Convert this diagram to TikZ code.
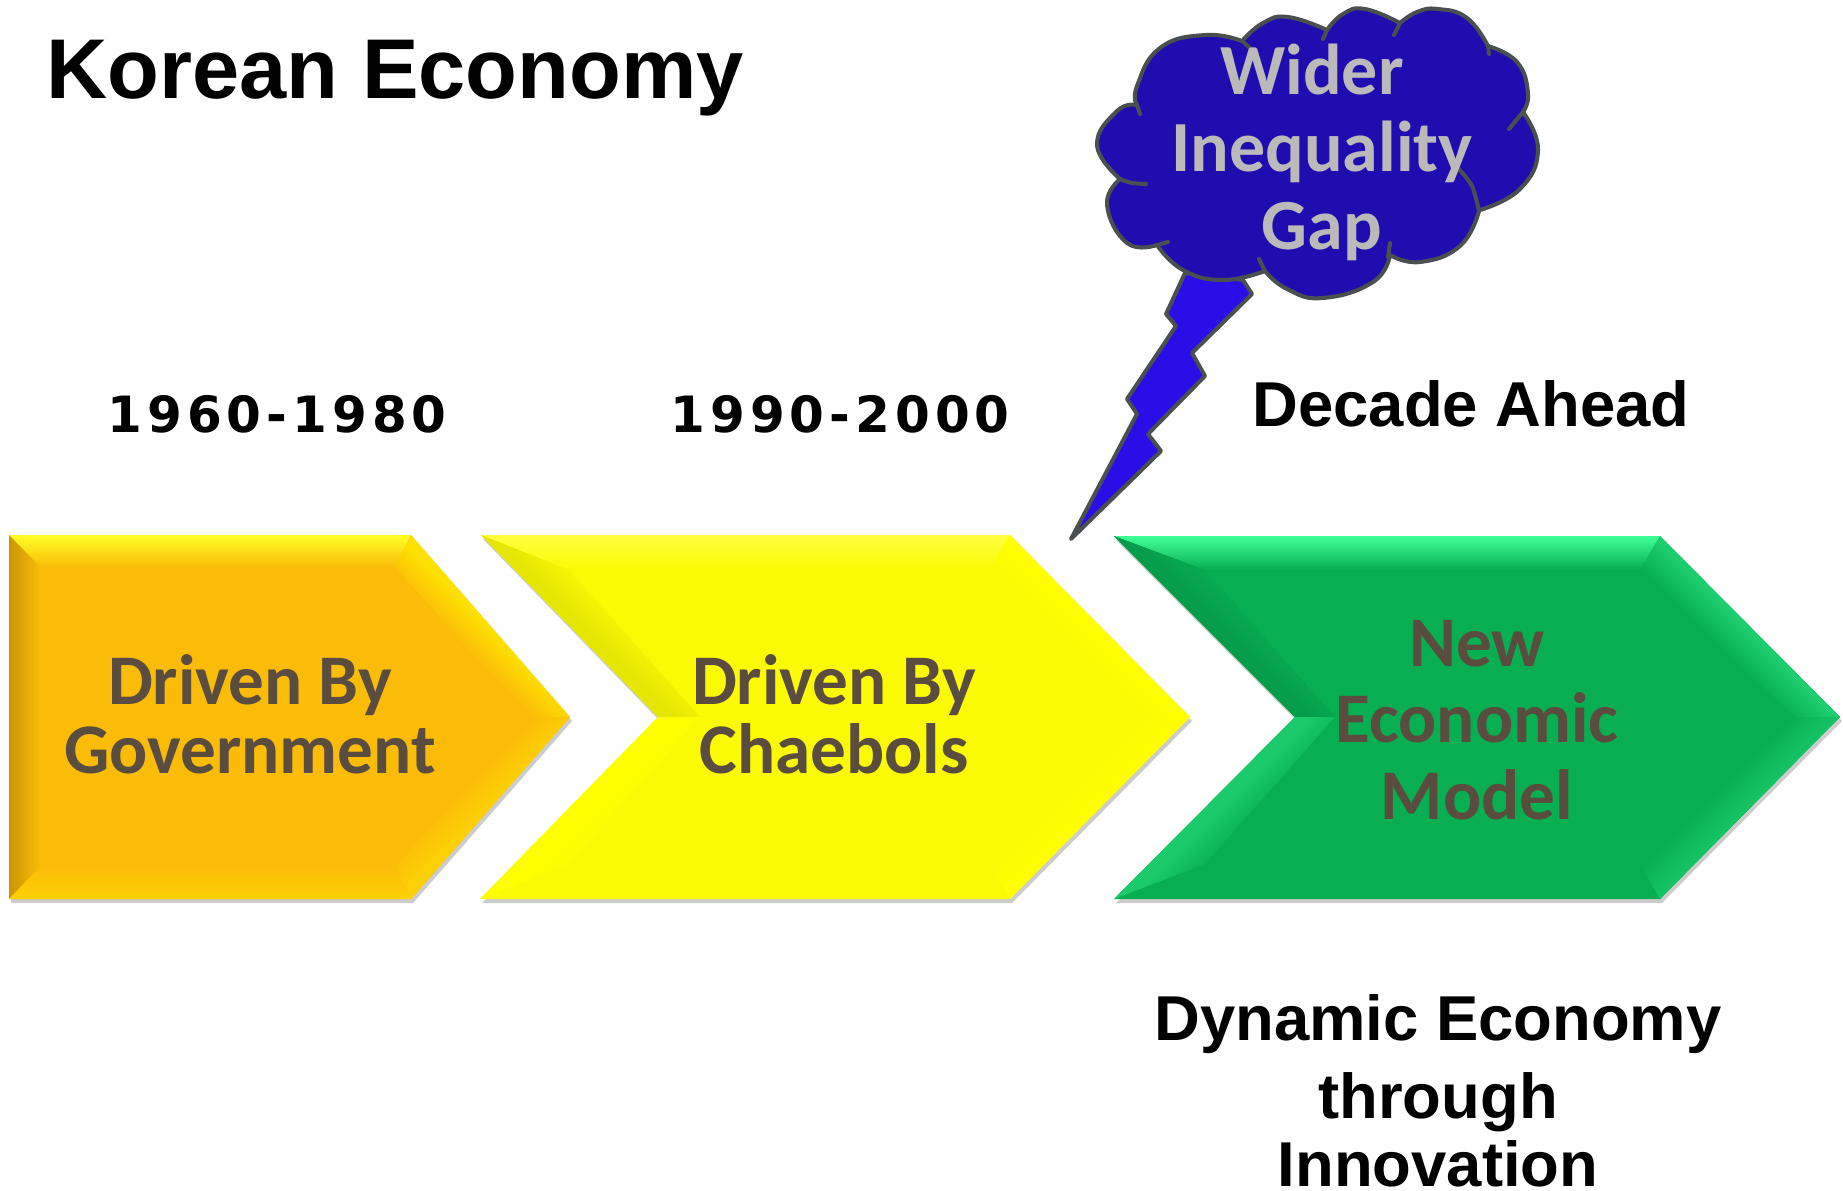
\documentclass[tikz,border=0pt]{standalone}
\usepackage{xcolor}
\usepackage{fontspec}
\setmainfont{Liberation Sans}
\newfontfamily\boxfont{Carlito}
\newfontfamily\yearfont[LetterSpace=10]{DejaVu Sans}
\definecolor{orangebase}{HTML}{FBBC07}
\definecolor{yellowbase}{HTML}{FAFA05}
\definecolor{greenbase}{HTML}{07AE52}
\definecolor{greentop}{HTML}{40FF98}
\definecolor{boxink}{HTML}{5A4C3E}
\definecolor{cloudfill}{HTML}{1F0DB0}
\definecolor{boltfill}{HTML}{2A0EE8}
\definecolor{cloudline}{HTML}{4A5050}
\colorlet{facetouter}{white}
\colorlet{facetbase}{white}
\pgfdeclareverticalshading[facetouter,facetbase]{facet}{100bp}{color(0bp)=(facetbase); color(42bp)=(facetbase); color(51bp)=(facetouter); color(100bp)=(facetouter)}
\tikzset{
  facet/.style 2 args={/utils/exec={\colorlet{facetouter}{#1}},shading=facet,shading angle=#2},
  boxtext/.style={font=\boxfont\bfseries\fontsize{35.6}{34.6}\selectfont,text=boxink,align=center,inner sep=0pt},
  headtext/.style={font=\bfseries\fontsize{31.7}{38.8}\selectfont,align=center,inner sep=0pt},
  yeartext/.style={font=\yearfont\bfseries\fontsize{25}{30}\selectfont,inner sep=0pt},
  arrowshadow/.style={fill=black,opacity=.2},
  cloudedge/.style={draw=cloudline,line width=2pt,line join=round,line cap=round}
}
\begin{document}
\begin{tikzpicture}[x=.5pt,y=-.5pt]
\useasboundingbox (0,0) rectangle (1843,1190);
\node[font=\bfseries\fontsize{42.4}{50}\selectfont,anchor=base west,inner sep=0pt] (title) at (46,98) {Korean Economy};
\node[yeartext,anchor=base] (yearone) at (277,432) {1960-1980};
\node[yeartext,anchor=base] (yeartwo) at (840,432) {1990-2000};
\node[headtext,anchor=base] (decade) at (1471,426) {Decade Ahead};
% orange arrow
\colorlet{facetbase}{orangebase}
\fill[arrowshadow] (11,539) -- (413,539) -- (572,721) -- (413,903) -- (11,903) -- cycle;
\fill[orangebase] (9,535) -- (411,535) -- (570,717) -- (411,899) -- (9,899) -- cycle;
\shade[top color=yellow!85!white,bottom color=orangebase] (9,535) -- (411,535) -- (395,567) -- (40,567) -- cycle;
\shade[top color=orangebase!80!black,bottom color=orangebase,shading angle=90] (9,535) -- (40,567) -- (40,867) -- (9,899) -- cycle;
\shade[facet={yellow!55!orangebase}{-45}] (411,535) -- (570,717) -- (530,717) -- (395,567) -- cycle;
\shade[facet={orangebase!70!yellow}{225}] (570,717) -- (411,899) -- (395,867) -- (530,717) -- cycle;
\shade[top color=orangebase,bottom color=orangebase!70!yellow] (40,867) -- (395,867) -- (411,899) -- (9,899) -- cycle;
% yellow arrow
\colorlet{facetbase}{yellowbase}
\fill[arrowshadow] (483,539) -- (1012,539) -- (1192,721) -- (1012,903) -- (482,903) -- (660,721) -- cycle;
\fill[yellowbase] (481,535) -- (1010,535) -- (1190,717) -- (1010,899) -- (480,899) -- (658,717) -- cycle;
\shade[top color=yellow!75!white,bottom color=yellowbase] (481,535) -- (1010,535) -- (990,570) -- (569,570) -- cycle;
\shade[facet={yellowbase!92!black}{135}] (481,535) -- (569,570) -- (700,717) -- (658,717) -- cycle;
\shade[facet={yellow}{45}] (658,717) -- (700,717) -- (569,864) -- (480,899) -- cycle;
\shade[facet={yellow}{-45}] (1010,535) -- (1190,717) -- (1140,717) -- (990,570) -- cycle;
\shade[facet={yellow}{225}] (1190,717) -- (1010,899) -- (990,864) -- (1140,717) -- cycle;
% green arrow
\colorlet{facetbase}{greenbase}
\fill[arrowshadow] (1116,540) -- (1662,540) -- (1842,721) -- (1662,903) -- (1116,903) -- (1297,721) -- cycle;
\fill[greenbase] (1114,536) -- (1660,536) -- (1840,717) -- (1660,899) -- (1114,899) -- (1295,717) -- cycle;
\shade[top color=greentop,bottom color=greenbase] (1114,536) -- (1660,536) -- (1640,570) -- (1205,570) -- cycle;
\shade[facet={greenbase!90!black}{135}] (1114,536) -- (1205,570) -- (1335,717) -- (1295,717) -- cycle;
\shade[facet={greenbase!65!greentop}{45}] (1295,717) -- (1335,717) -- (1205,864) -- (1114,899) -- cycle;
\shade[facet={greenbase!60!greentop}{-45}] (1660,536) -- (1840,717) -- (1795,717) -- (1640,570) -- cycle;
\shade[facet={greenbase!75!greentop}{225}] (1840,717) -- (1660,899) -- (1640,864) -- (1795,717) -- cycle;
% arrow texts
\node[boxtext] (government) at (250,714) {Driven By\\Government};
\node[boxtext] (chaebols) at (834,714) {Driven By\\Chaebols};
\node[boxtext,font=\boxfont\bfseries\fontsize{35.6}{38.2}\selectfont] (model) at (1477,720) {New\\Economic\\Model};
% bolt and cloud
\draw[cloudedge,fill=boltfill] (1185,273) -- (1166,314) -- (1176,326) -- (1127,399) -- (1137,414) -- (1071,539) -- (1161,451) -- (1148,434) -- (1205,376) -- (1192,353) -- (1252,294) -- (1243,280) -- cycle;
\draw[cloudedge,fill=cloudfill,tension=.8]
  plot[smooth] coordinates {(1137,105) (1137,86) (1160,48) (1205,35) (1242,41)}
  -- plot[smooth] coordinates {(1242,41) (1263,23) (1288,17) (1327,30)}
  -- plot[smooth] coordinates {(1327,30) (1343,14) (1365,9) (1400,23)}
  -- plot[smooth] coordinates {(1400,23) (1417,12) (1438,9) (1467,18) (1488,46)}
  -- plot[smooth] coordinates {(1488,46) (1517,62) (1528,93) (1523,112)}
  -- plot[smooth] coordinates {(1523,112) (1538,150) (1520,189) (1480,210)}
  -- plot[smooth] coordinates {(1479,211) (1460,246) (1420,262) (1390,255)}
  -- plot[smooth] coordinates {(1390,255) (1373,282) (1323,298) (1287,289) (1265,271)}
  -- plot[smooth] coordinates {(1265,271) (1223,280) (1183,270) (1157,245)}
  -- plot[smooth] coordinates {(1157,245) (1127,243) (1107,205) (1120,179)}
  -- plot[smooth] coordinates {(1120,179) (1097,145) (1117,111) (1137,105)}
  -- cycle;
\draw[cloudedge] (1242,41) -- (1250,48) (1323,39) -- (1327,30) (1394,35) -- (1400,23) (1489,54) -- (1488,46);
\draw[cloudedge] (1509,129) -- (1523,112) (1390,243) -- (1388,257) (1259,259) -- (1265,271) (1168,242) -- (1157,245) (1140,114) -- (1137,105);
\draw[cloudedge] plot[smooth] coordinates {(1458,168) (1472,186) (1479,211)};
\draw[cloudedge] plot[smooth] coordinates {(1120,179) (1132,183) (1146,184)};
\node[boxtext,text=black!27,font=\boxfont\bfseries\fontsize{36}{38.8}\selectfont] (gap) at (1322,152) {Wider\hspace*{10pt}\\Inequality\\Gap};
\node[headtext,anchor=base] (dynamic) at (1438,1040) {Dynamic Economy};
\node[headtext,anchor=base] (through) at (1438,1118) {through};
\node[headtext,anchor=base] (innovation) at (1438,1186) {Innovation};
\end{tikzpicture}
\end{document}
